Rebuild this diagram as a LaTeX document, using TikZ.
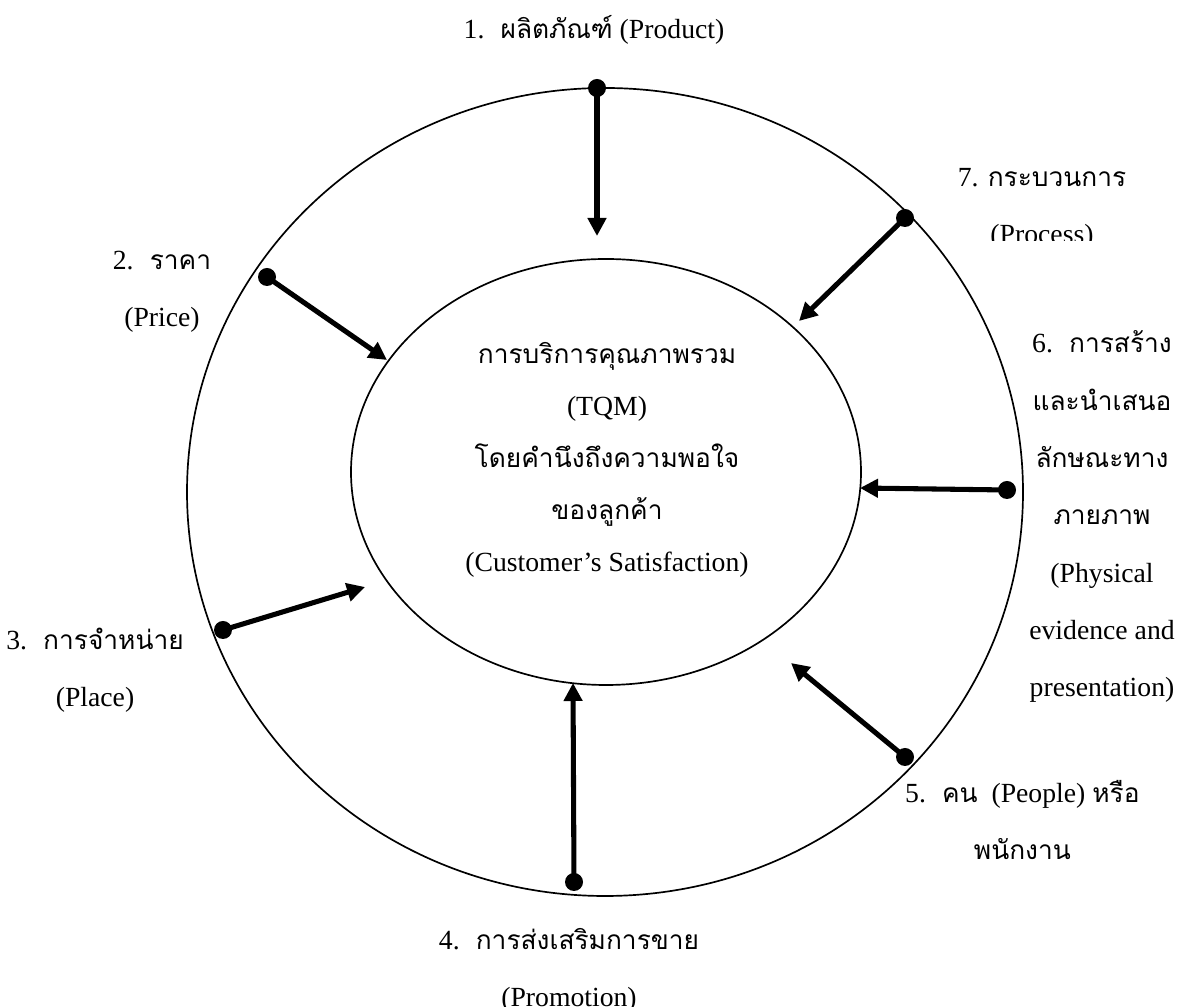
\documentclass[tikz,border=0pt]{standalone}
\usepackage{fontspec}
\setmainfont{Liberation Serif}
\newfontfamily\thaifont[Script=Thai,Scale=0.95]{Loma}
\newcommand{\tht}[1]{{\thaifont #1}}
\usetikzlibrary{arrows.meta}
\usetikzlibrary{shapes.geometric}
\usetikzlibrary{positioning}

\tikzset{
  lbl/.style={align=center, inner sep=0pt, anchor=base, font=\fontsize{19.7}{40.8}\selectfont},
  core/.style={align=center, inner sep=0pt, anchor=base, font=\fontsize{19.7}{37}\selectfont},
  dot/.style={circle, fill=black, inner sep=0pt, minimum size=0.45cm},
  push/.style={line width=3.6pt, -{Triangle[length=0.45cm,width=0.45cm]}},
  ring/.style={line width=1.2pt}
}

\begin{document}
\begin{tikzpicture}
\useasboundingbox (0,0) rectangle (29.7,25.175);

% Rings
\draw[ring] (15.125,12.875) ellipse (10.45 and 10.1);
\node[ring, draw, ellipse, inner sep=0pt, minimum width=12.75cm, minimum height=10.65cm] (inner) at (15.15,13.375) {};

% Centre text (base = last line)
\node[core] (tqm) at (15.175,10.875) {\tht{การบริการคุณภาพรวม}\\(TQM)\\\tht{โดยคำนึงถึงความพอใจ}\\\tht{ของลูกค้า}\\(Customer’s Satisfaction)};

% Dots on the outer ring
\node[dot] (product) at (14.925,22.975) {};
\node[dot] (price) at (6.675,18.25) {};
\node[dot] (place) at (5.575,9.425) {};
\node[dot] (promotion) at (14.35,3.125) {};
\node[dot] (people) at (22.625,6.25) {};
\node[dot] (physical) at (25.175,12.925) {};
\node[dot] (process) at (22.625,19.725) {};

% Arrow ends near the inner ring
\coordinate (product-in) at (14.925,19.275);
\coordinate (price-in) at (9.675,16.175);
\coordinate (place-in) at (9.125,10.5);
\coordinate (promotion-in) at (14.325,8.1);
\coordinate (people-in) at (19.775,8.6);
\coordinate (physical-in) at (21.5,12.975);
\coordinate (process-in) at (19.975,17.15);

\draw[push] (product.center) -- (product-in);
\draw[push] (price.center) -- (price-in);
\draw[push] (place.center) -- (place-in);
\draw[push] (promotion.center) -- (promotion-in);
\draw[push] (people.center) -- (people-in);
\draw[push] (physical.center) -- (physical-in);
\draw[push] (process.center) -- (process-in);

% Labels (base = last line)
\node[lbl] (product-lbl) at (14.85,24.2) {1.~ \tht{ผลิตภัณฑ์} (Product)};
\node[lbl] (price-lbl) at (4.05,17.0) {2.~ \tht{ราคา}\\(Price)};
\node[lbl] (place-lbl) at (2.375,7.5) {3.~ \tht{การจำหน่าย}\\(Place)};
\node[lbl] (promotion-lbl) at (14.225,0.0) {4.~ \tht{การส่งเสริมการขาย}\\(Promotion)};
\node[lbl] (people-lbl) at (25.56,3.675) {5.~ \tht{คน}~ (People) \tht{หรือ}\\\tht{พนักงาน}};
\node[lbl] (physical-lbl) at (27.55,7.75) {6.~ \tht{การสร้าง}\\\tht{และนำเสนอ}\\\tht{ลักษณะทาง}\\\tht{ภายภาพ}\\(Physical\\evidence and\\presentation)};
\begin{scope}
\clip (23,19.15) rectangle (29.7,21.5);
\node[lbl] (process-lbl) at (26.05,19.075) {7. \tht{กระบวนการ}\\(Process)};
\end{scope}

\end{tikzpicture}
\end{document}
